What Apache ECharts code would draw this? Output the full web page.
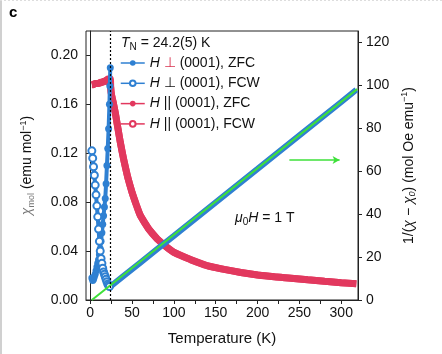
<!DOCTYPE html>
<html>
<head>
<meta charset="utf-8">
<script src="https://cdn.jsdelivr.net/npm/echarts@6/dist/echarts.min.js"></script>
<style>
  html, body { margin: 0; padding: 0; background: #fff; }
  #chart { width: 442px; height: 354px; }
</style>
</head>
<body>
<div id="chart"></div>
<script>
// chi(T) and 1/(chi - chi0)
const perpZfcT = [2, 3, 4, 5, 6, 7, 8, 9, 10, 11, 12, 13, 14, 15, 16, 17, 18, 19, 20, 21, 22, 23, 23.5, 24]
const perpZfcChi = [0.018, 0.016, 0.017, 0.019, 0.021, 0.024, 0.027, 0.030, 0.033, 0.037, 0.042, 0.048, 0.055, 0.062, 0.069, 0.076, 0.083, 0.095, 0.110, 0.124, 0.140, 0.160, 0.175, 0.190]

const perpFcwT = [2, 3, 4, 5, 6, 7, 8, 9, 10, 11, 12, 13, 14, 15, 16, 17, 18, 19, 20, 21, 22, 23]
const perpFcwChi = [0.122, 0.116, 0.109, 0.102, 0.094, 0.086, 0.077, 0.068, 0.058, 0.048, 0.040, 0.034, 0.030, 0.026, 0.023, 0.021, 0.019, 0.017, 0.015, 0.013, 0.012, 0.011]

const parT = [2, 4, 6, 8, 10, 12, 14, 16, 18, 20, 22, 24, 24.5, 25, 26, 28, 30, 33, 36, 40, 45, 50, 55, 60, 70, 80, 90, 100, 120, 140, 160, 180, 200, 220, 240, 260, 280, 300, 318]
const parChi = [0.176, 0.176, 0.177, 0.177, 0.177, 0.178, 0.178, 0.179, 0.179, 0.180, 0.181, 0.181, 0.174, 0.170, 0.166, 0.160, 0.153, 0.141, 0.129, 0.115, 0.100, 0.088, 0.078, 0.069, 0.058, 0.050, 0.044, 0.039, 0.033, 0.028, 0.025, 0.0225, 0.0205, 0.019, 0.0178, 0.0165, 0.0153, 0.0142, 0.0133]

const invT = [24, 40, 60, 80, 100, 150, 200, 250, 300, 318]
const invChi = [6.2, 11.2, 17.4, 23.6, 29.8, 45.4, 60.9, 76.5, 92.0, 97.7]

const fitT = [2, 319]
const fitInv = [0, 98.0]

const arrowT = [238, 298]
const arrowY = [65, 65]

const tN = 24.2
const xTicks = [0, 25, 50, 75, 100, 125, 150, 175, 200, 225, 250, 275, 300]
const xLabels = [0, 50, 100, 150, 200, 250, 300]
const leftTicks = [0, 0.04, 0.08, 0.12, 0.16, 0.20]
const rightTicks = [0, 20, 40, 60, 80, 100, 120]

const BLUE = '#2f80d2'
const RED = '#e2385e'
const GREEN = '#3ee03a'
const FONT = 'Liberation Sans, Arial, sans-serif'

function zip(xs, ys) {
  return xs.map((x, i) => [x, ys[i]])
}

const legendText = {
  perpZFC: '{i|H} {r|⊥} (0001), ZFC',
  perpFCW: '{i|H} ⊥ (0001), FCW',
  parZFC: '{i|H} || (0001), ZFC',
  parFCW: '{i|H} || (0001), FCW'
}

// rich styles for the small formula texts
const formulaRich = {
  it: { fontSize: 14, fontStyle: 'italic', fontWeight: 'normal', color: '#111', lineHeight: 17 },
  sub: { fontSize: 10, fontWeight: 'normal', color: '#111', verticalAlign: 'bottom', lineHeight: 11 },
  n: { fontSize: 14, fontWeight: 'normal', color: '#111', lineHeight: 17 }
}

const chart = echarts.init(document.getElementById('chart'), null, { renderer: 'canvas' })

chart.setOption({
  animation: false,
  textStyle: { fontFamily: FONT },
  title: [
    {
      text: 'c',
      left: 4,
      top: 0,
      textStyle: { fontSize: 15, fontWeight: 'bold', color: '#000', fontFamily: FONT }
    },
    {
      text: '{it|T}{sub|N}{n| = 24.2(5) K}',
      left: 116,
      top: 30,
      textStyle: { fontFamily: FONT, fontWeight: 'normal', rich: formulaRich }
    },
    {
      text: '{it|μ}{sub|0}{it|H}{n| = 1 T}',
      left: 230,
      top: 205,
      textStyle: { fontFamily: FONT, fontWeight: 'normal', rich: formulaRich }
    }
  ],
  graphic: [
    { type: 'line', shape: { x1: 1, y1: 0, x2: 1, y2: 354 }, style: { stroke: '#d0d0d0', lineWidth: 2 } },
    { type: 'line', shape: { x1: 0, y1: 0.5, x2: 442, y2: 0.5 }, style: { stroke: '#dddddd', lineWidth: 1, lineDash: [2, 2] } }
  ],
  legend: {
    data: ['perpZFC', 'perpFCW', 'parZFC', 'parFCW'],
    orient: 'vertical',
    left: 120,
    top: 55,
    padding: 0,
    itemWidth: 24,
    itemHeight: 7,
    itemGap: 4.3,
    lineStyle: { width: 1.5 },
    formatter: name => legendText[name],
    textStyle: {
      fontSize: 14,
      lineHeight: 16,
      color: '#111',
      fontFamily: FONT,
      rich: {
        i: { fontSize: 14, fontStyle: 'italic', color: '#111', fontFamily: FONT, lineHeight: 16 },
        r: { fontSize: 14, color: '#d8324f', fontFamily: FONT, lineHeight: 16 }
      }
    }
  },
  grid: {
    left: 86,
    right: 84,
    top: 31,
    bottom: 54,
    show: true,
    borderColor: '#222',
    borderWidth: 1
  },
  xAxis: {
    type: 'value',
    min: -5,
    max: 320,
    name: 'Temperature (K)',
    nameLocation: 'middle',
    nameGap: 31,
    nameTextStyle: { fontSize: 15, color: '#111' },
    axisLine: { show: true, lineStyle: { color: '#222', width: 1 } },
    axisTick: { show: true, length: 4, customValues: xTicks, lineStyle: { color: '#222' } },
    axisLabel: { customValues: xLabels, fontSize: 14, color: '#111', margin: 6 },
    splitLine: { show: false }
  },
  yAxis: [
    {
      type: 'value',
      min: 0,
      max: 0.22,
      name: '{chi|χ}{sub|mol}{n| (emu mol}{sup|−1}{n|)}',
      nameLocation: 'middle',
      nameGap: 50,
      nameTextStyle: {
        fontFamily: FONT,
        rich: {
          chi: { fontSize: 14, fontStyle: 'italic', color: '#777', lineHeight: 17 },
          sub: { fontSize: 9, color: '#777', verticalAlign: 'bottom', lineHeight: 10 },
          n: { fontSize: 14, color: '#111', lineHeight: 17 },
          sup: { fontSize: 9, color: '#111', verticalAlign: 'top', lineHeight: 10 }
        }
      },
      axisLine: { show: true, lineStyle: { color: '#222', width: 1 } },
      axisTick: { show: true, length: 4, customValues: leftTicks, lineStyle: { color: '#222' } },
      axisLabel: {
        customValues: leftTicks,
        fontSize: 14,
        color: '#111',
        margin: 8,
        formatter: v => v.toFixed(2)
      },
      splitLine: { show: false }
    },
    {
      type: 'value',
      position: 'right',
      min: 0,
      max: 125,
      name: '{n|1/(}{chi|χ}{n| − }{chi|χ}{sub|0}{n|) (mol Oe emu}{sup|−1}{n|)}',
      nameLocation: 'middle',
      nameGap: 40,
      nameTextStyle: {
        fontFamily: FONT,
        rich: {
          chi: { fontSize: 14, fontStyle: 'italic', color: '#111', lineHeight: 17 },
          sub: { fontSize: 9, fontStyle: 'italic', color: '#111', verticalAlign: 'bottom', lineHeight: 10 },
          n: { fontSize: 14, color: '#111', lineHeight: 17 },
          sup: { fontSize: 9, color: '#111', verticalAlign: 'top', lineHeight: 10 }
        }
      },
      axisLine: { show: true, lineStyle: { color: '#222', width: 1 } },
      axisTick: { show: true, length: 4, customValues: rightTicks, lineStyle: { color: '#222' } },
      axisLabel: { customValues: rightTicks, fontSize: 14, color: '#111', margin: 8 },
      splitLine: { show: false }
    }
  ],
  series: [
    {
      name: 'perpZFC',
      type: 'line',
      yAxisIndex: 0,
      z: 3,
      data: zip(perpZfcT, perpZfcChi),
      symbol: 'circle',
      symbolSize: 7,
      color: BLUE,
      lineStyle: { width: 4, color: BLUE },
      itemStyle: { color: BLUE },
      markLine: {
        silent: true,
        symbol: 'none',
        label: { show: false },
        lineStyle: { color: '#000', type: [2, 2], width: 1.2 },
        data: [{ xAxis: tN }]
      }
    },
    {
      name: 'perpFCW',
      type: 'line',
      yAxisIndex: 0,
      z: 3,
      data: zip(perpFcwT, perpFcwChi),
      symbol: 'emptyCircle',
      symbolSize: 7,
      color: BLUE,
      lineStyle: { width: 4, color: BLUE },
      itemStyle: { color: BLUE, borderWidth: 2 }
    },
    {
      name: 'parFCW',
      type: 'line',
      yAxisIndex: 0,
      z: 1,
      data: zip(parT, parChi),
      symbol: 'emptyCircle',
      showSymbol: false,
      color: RED,
      lineStyle: { width: 7, color: RED },
      itemStyle: { color: RED }
    },
    {
      name: 'parZFC',
      type: 'line',
      yAxisIndex: 0,
      z: 1,
      data: zip(parT, parChi),
      symbol: 'circle',
      showSymbol: false,
      smooth: 0.3,
      color: RED,
      lineStyle: { width: 7, color: RED },
      itemStyle: { color: RED }
    },
    {
      name: 'perpZFC',
      type: 'line',
      yAxisIndex: 1,
      z: 3,
      data: zip(invT, invChi),
      showSymbol: false,
      color: BLUE,
      lineStyle: { width: 6, color: BLUE }
    },
    {
      name: 'fit',
      type: 'line',
      yAxisIndex: 1,
      z: 4,
      data: zip(fitT, fitInv),
      showSymbol: false,
      lineStyle: { width: 2, color: GREEN }
    },
    {
      name: 'arrow',
      type: 'line',
      yAxisIndex: 1,
      z: 4,
      data: [],
      markLine: {
        silent: true,
        symbol: ['none', 'arrow'],
        symbolSize: [6, 7],
        label: { show: false },
        lineStyle: { color: GREEN, type: 'solid', width: 1.5 },
        data: [[{ coord: [arrowT[0], arrowY[0]] }, { coord: [arrowT[1], arrowY[1]] }]]
      }
    }
  ]
})
</script>
</body>
</html>
